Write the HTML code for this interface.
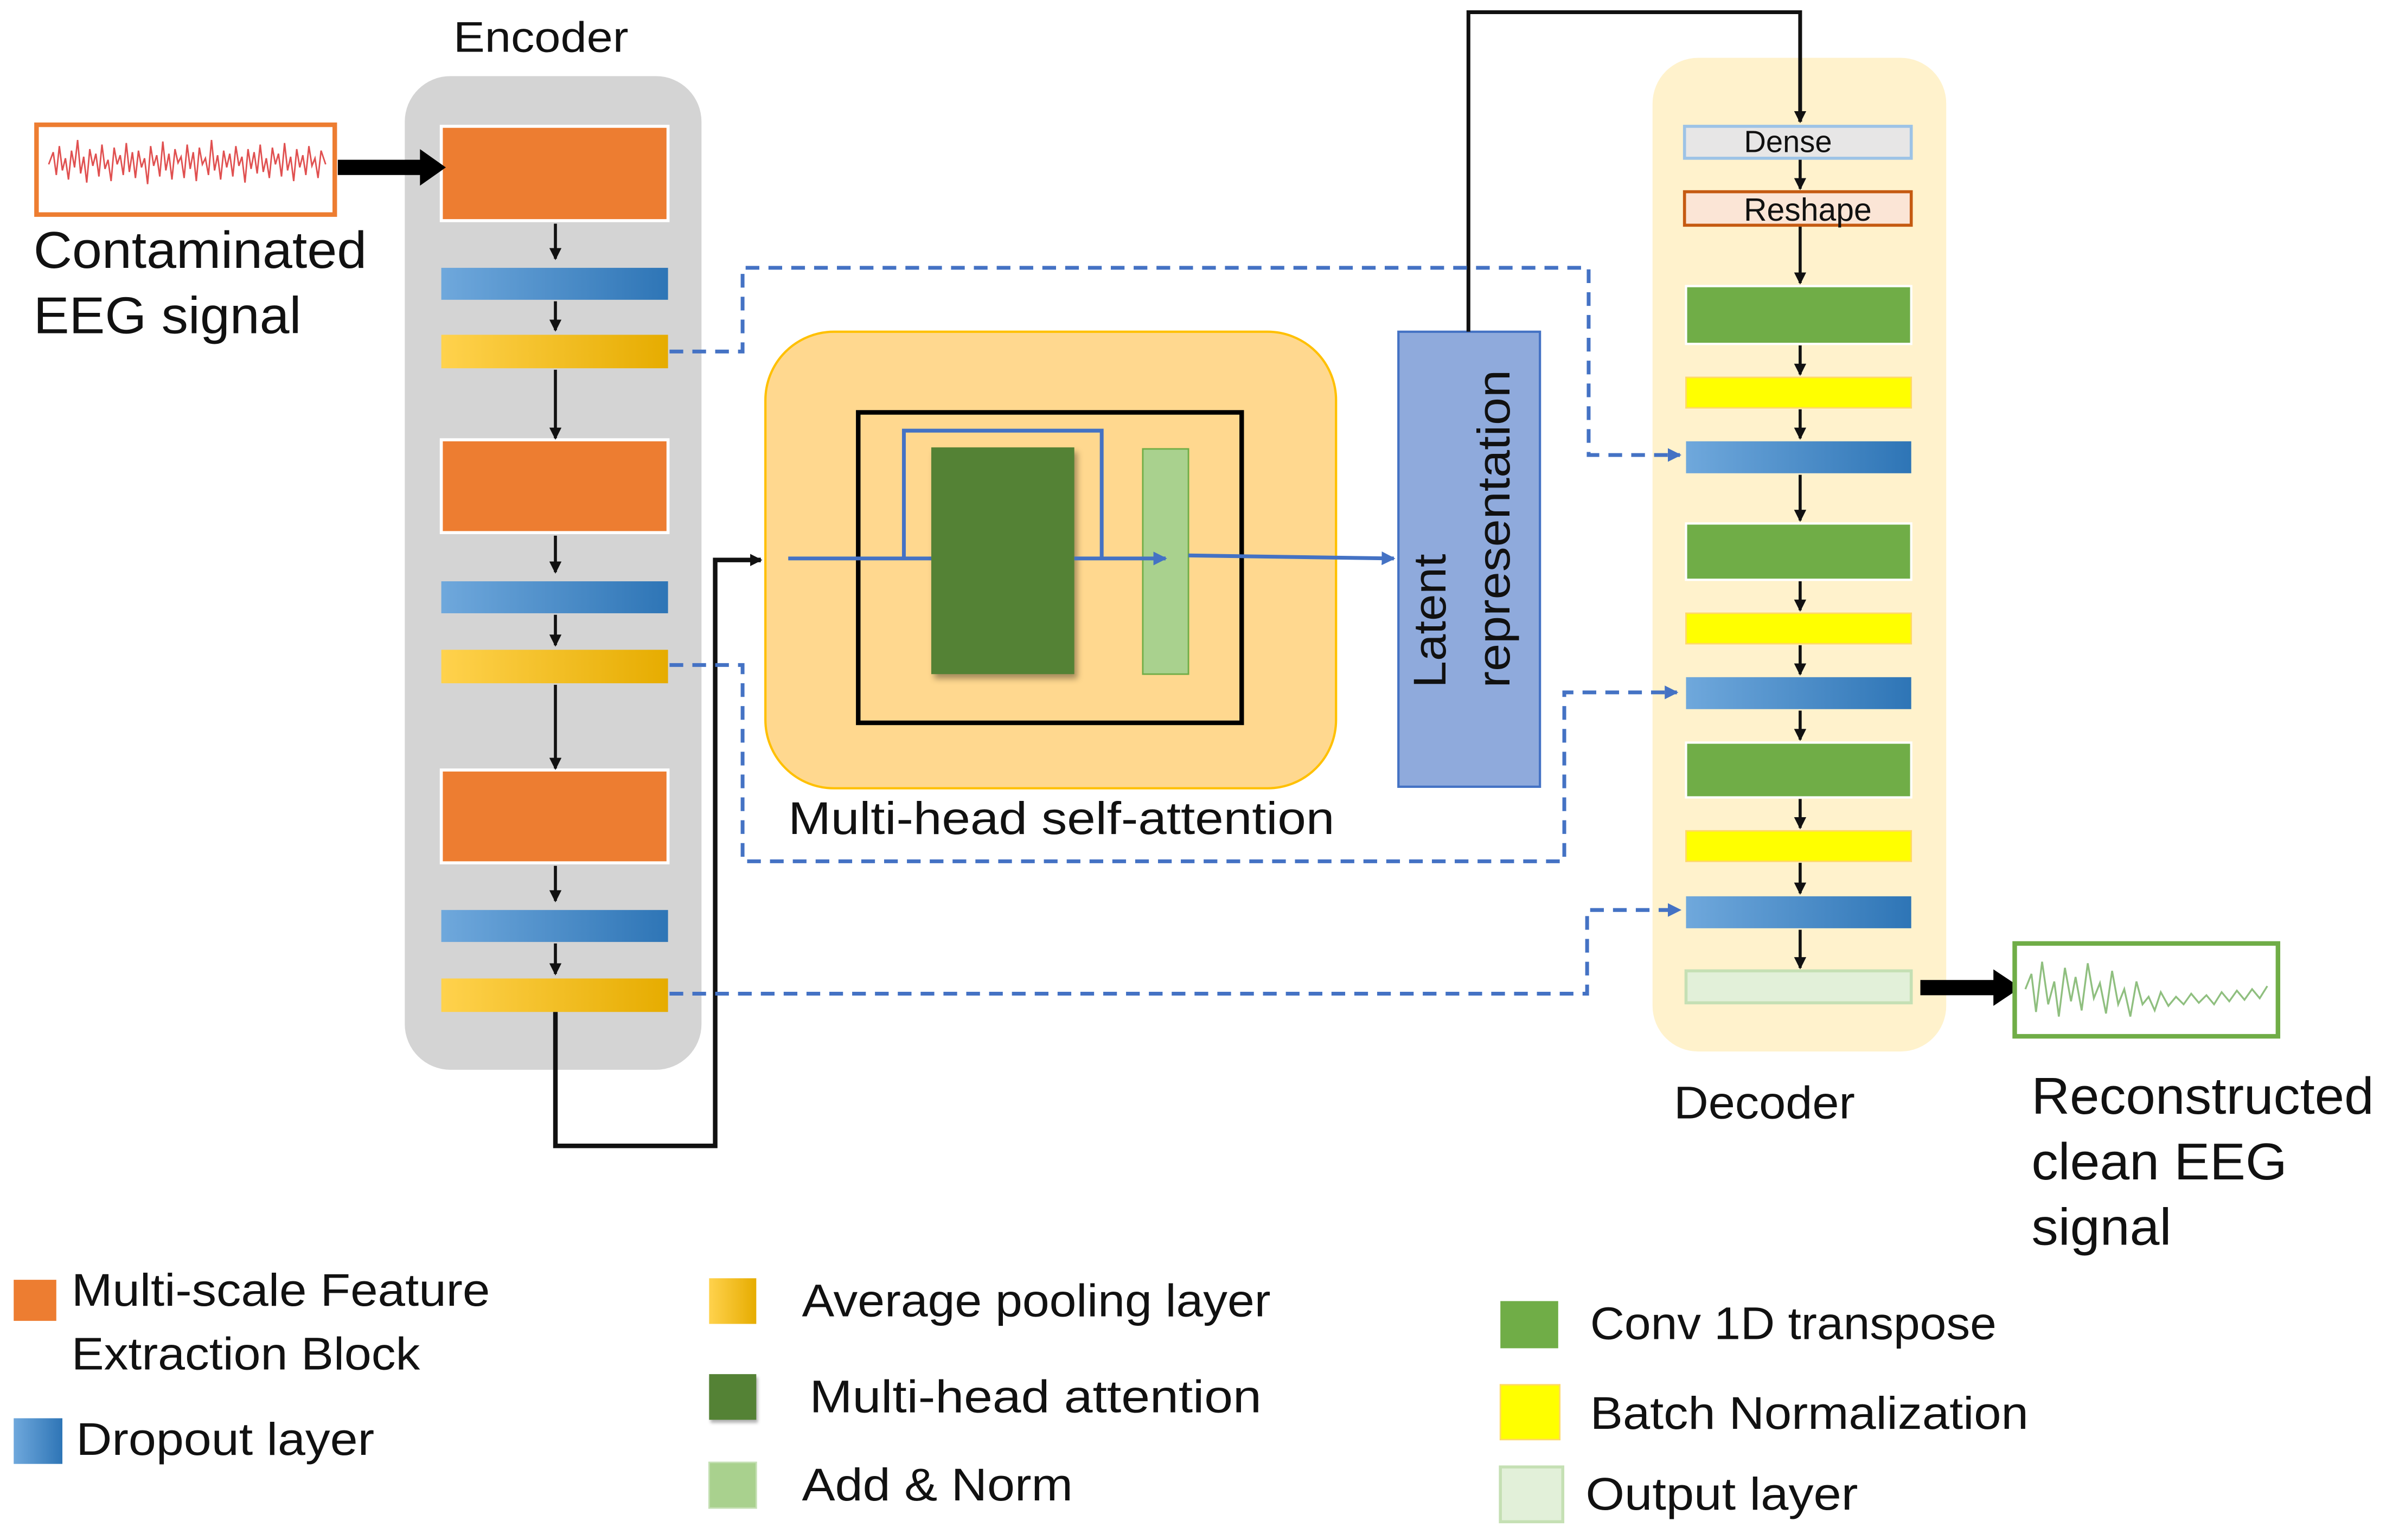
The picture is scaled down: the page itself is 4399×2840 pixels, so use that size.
<!DOCTYPE html>
<html><head><meta charset="utf-8"><style>
html,body{margin:0;padding:0;background:#fff;}
svg{display:block;}
text{font-family:"Liberation Sans","DejaVu Sans",sans-serif;fill:#111;}
</style></head><body>
<svg width="4399" height="2840" viewBox="0 0 1568 1012" preserveAspectRatio="none" xmlns="http://www.w3.org/2000/svg">
<defs>
<linearGradient id="gb" x1="0" x2="1"><stop offset="0" stop-color="#6fa8dc"/><stop offset="1" stop-color="#2e75b6"/></linearGradient>
<linearGradient id="gy" x1="0" x2="1"><stop offset="0" stop-color="#ffd24d"/><stop offset="1" stop-color="#e6ac00"/></linearGradient>
<marker id="ak" markerWidth="8" markerHeight="8" refX="7" refY="4" orient="auto" markerUnits="userSpaceOnUse"><path d="M0,0 L8,4 L0,8 z" fill="#111"/></marker>
<marker id="ab" markerWidth="9" markerHeight="9" refX="8" refY="4.5" orient="auto" markerUnits="userSpaceOnUse"><path d="M0,0 L9,4.5 L0,9 z" fill="#4472c4"/></marker>
</defs>

<!-- Encoder -->
<text x="298" y="34" font-size="28" textLength="115" lengthAdjust="spacingAndGlyphs">Encoder</text>
<rect x="266" y="50" width="195" height="653" rx="30" fill="#d4d4d4"/>
<g stroke="#fff" stroke-width="2">
<rect x="290" y="83" width="149" height="62" fill="#ed7d31"/>
<rect x="290" y="289" width="149" height="61" fill="#ed7d31"/>
<rect x="290" y="506" width="149" height="61" fill="#ed7d31"/>
</g>
<g>
<rect x="290" y="176" width="149" height="21" fill="url(#gb)"/>
<rect x="290" y="382" width="149" height="21" fill="url(#gb)"/>
<rect x="290" y="598" width="149" height="21" fill="url(#gb)"/>
<rect x="290" y="220" width="149" height="22" fill="url(#gy)"/>
<rect x="290" y="427" width="149" height="22" fill="url(#gy)"/>
<rect x="290" y="643" width="149" height="22" fill="url(#gy)"/>
</g>
<g stroke="#111" stroke-width="2" marker-end="url(#ak)">
<line x1="365" y1="147" x2="365" y2="170"/>
<line x1="365" y1="198" x2="365" y2="217"/>
<line x1="365" y1="243" x2="365" y2="288"/>
<line x1="365" y1="352" x2="365" y2="376"/>
<line x1="365" y1="404" x2="365" y2="424"/>
<line x1="365" y1="450" x2="365" y2="505"/>
<line x1="365" y1="569" x2="365" y2="592"/>
<line x1="365" y1="620" x2="365" y2="640"/>
</g>
<polyline points="365,665 365,753 470,753 470,368 500,368" fill="none" stroke="#111" stroke-width="3" marker-end="url(#ak)"/>

<!-- input -->
<rect x="24" y="82" width="196" height="59" fill="#fff" stroke="#ed7d31" stroke-width="3"/>
<polyline fill="none" stroke="#e05050" stroke-width="1" points="32,108 35,100 37,115 39,96 41,112 43,104 45,118 47,99 49,110 51,92 53,114 55,103 57,120 59,98 61,109 63,101 65,116 67,95 69,111 71,105 73,119 75,97 77,108 79,102 81,115 83,94 85,113 87,100 89,117 91,99 93,110 95,104 97,121 99,96 101,109 103,102 105,116 107,93 109,112 111,101 113,118 115,98 117,107 119,103 121,117 123,95 125,111 127,100 129,119 131,97 133,108 135,104 137,115 139,92 141,112 143,102 145,118 147,99 149,110 151,101 153,116 155,96 157,109 159,103 161,120 163,98 165,111 167,100 169,114 171,95 173,113 175,104 177,117 179,97 181,108 183,101 185,116 187,94 189,112 191,103 193,119 195,98 197,110 199,102 201,115 203,96 205,109 207,104 209,117 211,99 214,108"/>
<line x1="222" y1="110" x2="278" y2="110" stroke="#000" stroke-width="10"/>
<path d="M276,98 L293,110 L276,122 z" fill="#000"/>
<text x="22" y="176" font-size="34" textLength="219" lengthAdjust="spacingAndGlyphs">Contaminated</text>
<text x="22" y="219" font-size="34" textLength="176" lengthAdjust="spacingAndGlyphs">EEG signal</text>

<!-- attention -->
<rect x="503" y="218" width="375" height="300" rx="45" fill="#ffd88f" stroke="#ffc000" stroke-width="1.5"/>
<rect x="564" y="271" width="252" height="204" fill="none" stroke="#000" stroke-width="3"/>
<polyline points="594,367 594,283 724,283 724,367" fill="none" stroke="#4472c4" stroke-width="2.5"/>
<line x1="518" y1="367" x2="612" y2="367" stroke="#4472c4" stroke-width="2.5"/>
<rect x="612" y="294" width="94" height="149" fill="#548235" style="filter:drop-shadow(2px 3px 2px rgba(0,0,0,0.35))"/>
<rect x="751" y="295" width="30" height="148" fill="#a9d18e" stroke="#70ad47" stroke-width="1"/>
<line x1="706" y1="367" x2="766" y2="367" stroke="#4472c4" stroke-width="2.5" marker-end="url(#ab)"/>
<line x1="781" y1="365" x2="916" y2="367" stroke="#4472c4" stroke-width="2.5" marker-end="url(#ab)"/>
<text x="518" y="548" font-size="30" textLength="359" lengthAdjust="spacingAndGlyphs">Multi-head self-attention</text>

<!-- latent -->
<rect x="919" y="218" width="93" height="299" fill="#8faadc" stroke="#4472c4" stroke-width="1.5"/>
<text transform="translate(950,452) rotate(-90)" font-size="30" textLength="88" lengthAdjust="spacingAndGlyphs">Latent</text>
<text transform="translate(992,452) rotate(-90)" font-size="30" textLength="209" lengthAdjust="spacingAndGlyphs">representation</text>

<!-- decoder -->
<rect x="1086" y="38" width="193" height="653" rx="30" fill="#fff2cc"/>
<polyline points="965,218 965,8 1183,8 1183,80" fill="none" stroke="#111" stroke-width="2.5" marker-end="url(#ak)"/>
<rect x="1107" y="83" width="149" height="21" fill="#e7e6e6" stroke="#9dc3e6" stroke-width="2"/>
<text x="1175" y="100" font-size="20" text-anchor="middle">Dense</text>
<rect x="1107" y="126" width="149" height="22" fill="#fbe5d6" stroke="#c55a11" stroke-width="2"/>
<text x="1188" y="145" font-size="21" text-anchor="middle">Reshape</text>
<g stroke="#fff" stroke-width="1.5">
<rect x="1108" y="188" width="148" height="38" fill="#70ad47"/>
<rect x="1108" y="344" width="148" height="37" fill="#70ad47"/>
<rect x="1108" y="488" width="148" height="36" fill="#70ad47"/>
</g>
<g stroke="#ffd966" stroke-width="1">
<rect x="1108" y="248" width="148" height="20" fill="#ffff00"/>
<rect x="1108" y="403" width="148" height="20" fill="#ffff00"/>
<rect x="1108" y="546" width="148" height="20" fill="#ffff00"/>
</g>
<rect x="1108" y="290" width="148" height="21" fill="url(#gb)"/>
<rect x="1108" y="445" width="148" height="21" fill="url(#gb)"/>
<rect x="1108" y="589" width="148" height="21" fill="url(#gb)"/>
<rect x="1108" y="638" width="148" height="21" fill="#e2f0d9" stroke="#c5e0b4" stroke-width="2"/>
<g stroke="#111" stroke-width="2" marker-end="url(#ak)">
<line x1="1183" y1="105" x2="1183" y2="124"/>
<line x1="1183" y1="149" x2="1183" y2="186"/>
<line x1="1183" y1="227" x2="1183" y2="246"/>
<line x1="1183" y1="269" x2="1183" y2="288"/>
<line x1="1183" y1="312" x2="1183" y2="342"/>
<line x1="1183" y1="382" x2="1183" y2="401"/>
<line x1="1183" y1="424" x2="1183" y2="443"/>
<line x1="1183" y1="467" x2="1183" y2="486"/>
<line x1="1183" y1="525" x2="1183" y2="544"/>
<line x1="1183" y1="567" x2="1183" y2="587"/>
<line x1="1183" y1="611" x2="1183" y2="636"/>
</g>
<text x="1100" y="735" font-size="30" textLength="119" lengthAdjust="spacingAndGlyphs">Decoder</text>

<!-- dashed -->
<g fill="none" stroke="#4472c4" stroke-width="2.5" stroke-dasharray="9,6" marker-end="url(#ab)">
<polyline points="440,231 488,231 488,176 1044,176 1044,299 1104,299"/>
<polyline points="440,437 488,437 488,566 1028,566 1028,455 1102,455"/>
<polyline points="440,653 1043,653 1043,598 1104,598"/>
</g>

<!-- output -->
<line x1="1262" y1="649" x2="1312" y2="649" stroke="#000" stroke-width="10"/>
<path d="M1310,637 L1328,649 L1310,661 z" fill="#000"/>
<rect x="1324" y="620" width="173" height="61" fill="#fff" stroke="#70ad47" stroke-width="3"/>
<polyline fill="none" stroke="#8fbf7f" stroke-width="1.2" points="1331,650 1335,640 1338,665 1342,632 1346,660 1350,645 1353,668 1357,636 1361,658 1364,642 1368,664 1372,633 1376,656 1380,646 1384,666 1388,638 1392,660 1396,650 1400,668 1404,645 1408,660 1412,655 1416,664 1420,652 1425,661 1430,655 1435,660 1440,653 1445,659 1450,654 1455,660 1460,652 1465,658 1470,651 1475,657 1480,650 1485,656 1490,648"/>
<text x="1335" y="732" font-size="34" textLength="225" lengthAdjust="spacingAndGlyphs">Reconstructed</text>
<text x="1335" y="775" font-size="34" textLength="168" lengthAdjust="spacingAndGlyphs">clean EEG</text>
<text x="1335" y="818" font-size="34" textLength="92" lengthAdjust="spacingAndGlyphs">signal</text>

<!-- legend -->
<rect x="9" y="841" width="28" height="27" fill="#ed7d31"/>
<text x="47" y="858" font-size="30" textLength="275" lengthAdjust="spacingAndGlyphs">Multi-scale Feature</text>
<text x="47" y="900" font-size="30" textLength="229" lengthAdjust="spacingAndGlyphs">Extraction Block</text>
<rect x="9" y="932" width="32" height="30" fill="url(#gb)"/>
<text x="50" y="956" font-size="30" textLength="196" lengthAdjust="spacingAndGlyphs">Dropout layer</text>
<rect x="466" y="840" width="31" height="30" fill="url(#gy)"/>
<text x="527" y="865" font-size="30" textLength="308" lengthAdjust="spacingAndGlyphs">Average pooling layer</text>
<rect x="466" y="903" width="31" height="30" fill="#548235" style="filter:drop-shadow(1px 2px 1px rgba(0,0,0,0.3))"/>
<text x="532" y="928" font-size="30" textLength="297" lengthAdjust="spacingAndGlyphs">Multi-head attention</text>
<rect x="466" y="961" width="31" height="30" fill="#a9d18e" stroke="#c5e0b4"/>
<text x="527" y="986" font-size="30" textLength="178" lengthAdjust="spacingAndGlyphs">Add &amp; Norm</text>
<rect x="986" y="855" width="38" height="31" fill="#70ad47"/>
<text x="1045" y="880" font-size="30" textLength="267" lengthAdjust="spacingAndGlyphs">Conv 1D transpose</text>
<rect x="986" y="910" width="39" height="36" fill="#ffff00" stroke="#ffd966"/>
<text x="1045" y="939" font-size="30" textLength="288" lengthAdjust="spacingAndGlyphs">Batch Normalization</text>
<rect x="986" y="964" width="41" height="36" fill="#e2f0d9" stroke="#c5e0b4" stroke-width="2"/>
<text x="1042" y="992" font-size="30" textLength="179" lengthAdjust="spacingAndGlyphs">Output layer</text>
</svg>
</body></html>
